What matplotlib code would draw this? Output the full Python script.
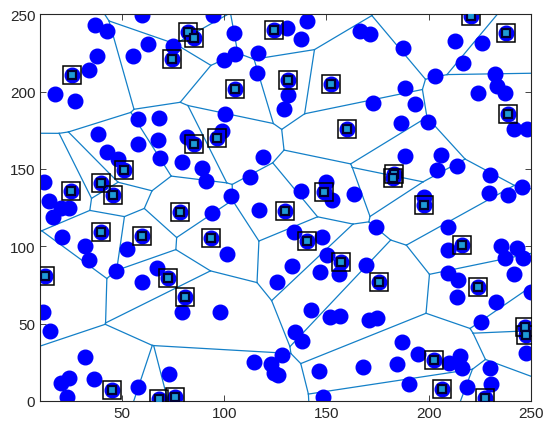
import numpy as np
import matplotlib
matplotlib.use("Agg")
import matplotlib.pyplot as plt
import matplotlib.tri as mtri

plt.rcParams['font.family'] = ['Liberation Sans', 'DejaVu Sans']

# cluster heads (boxed nodes)
head_x = [25.8, 82.5, 85.4, 74.4, 85.4, 124.5, 131.4, 105.4, 152.1, 160.1, 96.7,
          220.9, 238.0, 239.1, 51.1, 39.6, 45.7, 25.3, 78.4, 40.0, 60.0, 12.6,
          72.7, 149.0, 129.9, 93.6, 140.5, 157.4, 183.3, 182.6, 197.7, 216.5,
          176.0, 224.0, 45.3, 68.3, 76.0, 80.9, 202.6, 206.4, 227.5, 247.2, 247.5]
head_y = [210.5, 238.6, 234.7, 220.9, 165.8, 240.1, 207.3, 201.4, 204.9, 175.5, 170.1,
          248.7, 237.9, 185.3, 149.4, 140.8, 133.2, 135.4, 122.4, 109.1, 106.9, 80.8,
          79.5, 135.0, 123.0, 105.2, 103.6, 90.0, 146.8, 144.2, 126.7, 101.0,
          76.7, 73.5, 6.9, 1.1, 2.6, 67.0, 26.6, 7.6, 1.6, 47.9, 42.6]

# ordinary nodes
node_x = [59.6, 36.8, 42.5, 62.9, 74.8, 37.9, 55.5, 34.0, 17.5, 27.0, 58.0, 68.3,
          38.4, 57.7, 67.8, 81.7, 42.8, 48.2, 68.6, 79.3,
          94.5, 104.9, 105.4, 100.0, 116.5, 116.0, 131.0, 140.5, 137.6, 131.2, 129.1,
          100.5, 98.9, 166.7, 171.6, 172.9,
          187.4, 212.9, 226.3, 217.0, 203.3, 232.5, 188.7, 233.7, 237.4, 224.2, 193.6,
          186.3, 199.9, 241.8, 248.0,
          11.9, 14.2, 20.1, 24.0, 16.3, 20.7, 31.9, 34.0, 52.3, 46.9, 67.0, 60.0,
          119.0, 89.0, 91.2, 112.7, 103.3, 94.0, 117.2, 137.7, 150.0, 152.8, 163.4,
          101.3, 134.0, 147.9, 150.3, 133.2, 146.7, 156.0, 169.5, 126.1, 174.5,
          188.7, 206.2, 203.9, 214.0, 230.0, 245.9, 229.6, 239.1, 197.7, 209.7, 209.5,
          235.3, 243.4, 237.4, 246.4, 209.7, 214.6, 241.8, 250.0,
          11.4, 14.7, 31.9, 20.1, 24.2, 23.2, 36.4, 58.0, 73.0, 79.3,
          98.0, 142.6, 152.0, 156.5, 170.8, 174.6, 134.8, 138.1, 128.3, 114.4, 122.9,
          124.2, 126.6, 146.6, 168.0, 148.4,
          214.0, 232.8, 225.8, 187.1, 194.8, 184.7, 210.0, 215.4, 216.5, 230.0, 230.4,
          218.9, 190.3, 247.5]
node_y = [249.8, 242.9, 239.2, 231.0, 229.5, 223.0, 223.0, 213.7, 198.2, 193.9, 182.4, 183.1,
          172.7, 166.3, 168.4, 170.9, 160.9, 156.1, 157.2, 154.4,
          249.8, 237.9, 224.5, 220.2, 225.0, 212.0, 241.2, 245.7, 233.8, 197.5, 188.5,
          185.7, 174.5, 239.2, 237.0, 192.6,
          228.2, 232.5, 231.5, 218.7, 209.8, 211.6, 202.5, 203.4, 198.8, 199.1, 192.2,
          179.9, 180.5, 175.5, 175.5,
          141.8, 129.5, 124.6, 125.0, 118.8, 106.2, 100.0, 91.3, 98.3, 84.2, 85.9, 76.7,
          157.6, 150.5, 142.5, 144.7, 132.8, 121.6, 123.7, 135.4, 141.4, 130.0, 133.9,
          95.0, 109.1, 106.2, 94.4, 87.4, 83.2, 82.1, 87.9, 76.7, 112.3,
          158.3, 159.1, 149.0, 152.2, 146.2, 138.2, 134.5, 133.2, 131.7, 112.7, 97.6,
          100.4, 98.9, 92.2, 92.4, 82.5, 78.4, 82.1, 70.5,
          57.3, 44.9, 28.1, 11.3, 14.7, 2.8, 14.5, 9.3, 17.7, 57.3,
          57.6, 58.7, 54.4, 55.0, 52.3, 53.3, 44.3, 38.9, 29.6, 25.3, 24.2,
          17.9, 16.6, 19.4, 22.2, 2.8,
          67.0, 63.7, 50.8, 38.2, 30.2, 23.8, 24.4, 29.1, 21.0, 21.6, 10.8,
          9.3, 10.8, 30.9]


def circumcenter(a, b, c):
    d = 2 * (a[0] * (b[1] - c[1]) + b[0] * (c[1] - a[1]) + c[0] * (a[1] - b[1]))
    ux = ((a @ a) * (b[1] - c[1]) + (b @ b) * (c[1] - a[1]) + (c @ c) * (a[1] - b[1])) / d
    uy = ((a @ a) * (c[0] - b[0]) + (b @ b) * (a[0] - c[0]) + (c @ c) * (b[0] - a[0])) / d
    return np.array([ux, uy])


def voronoi_edges(x, y):
    """Voronoi edges from the Delaunay triangulation (rays pushed far out)."""
    pts = np.column_stack([x, y])
    tri = mtri.Triangulation(x, y)
    cc = np.array([circumcenter(*pts[t]) for t in tri.triangles])
    center = pts.mean(axis=0)
    far = np.ptp(pts, axis=0).max() * 3
    segs = []
    for i, t in enumerate(tri.triangles):
        for j in range(3):
            nb = tri.neighbors[i, j]
            if nb >= 0:
                if i < nb:
                    segs.append((cc[i], cc[nb]))
            else:
                p, q = pts[t[j]], pts[t[(j + 1) % 3]]
                tang = (q - p) / np.linalg.norm(q - p)
                n = np.array([-tang[1], tang[0]])
                mid = (p + q) / 2
                n = np.sign(np.dot(mid - center, n)) * n
                segs.append((cc[i], cc[i] + n * far))
    return segs


fig = plt.figure(figsize=(5.5, 4.35), dpi=100)
ax = fig.add_axes([0.073, 0.076, 0.892, 0.889])

for a, b in voronoi_edges(np.array(head_x), np.array(head_y)):
    ax.plot([a[0], b[0]], [a[1], b[1]], color='#1480C8', lw=0.9, zorder=1)

ax.plot(node_x, node_y, 'o', color='#0000FF', ms=10.5, zorder=2)
ax.plot(head_x, head_y, 'o', color='#0000FF', ms=10.5, zorder=2)
ax.plot(head_x, head_y, 's', mfc='none', mec='black', ms=13.5, mew=1.1, zorder=3)
ax.plot(head_x, head_y, 's', mfc='#1E9AD6', mec='#000033', ms=5.5, mew=1.6, zorder=4)

ax.set_xlim(10, 250)
ax.set_ylim(0, 250)
ax.set_xticks([50, 100, 150, 200, 250])
ax.set_yticks([0, 50, 100, 150, 200, 250])
ax.tick_params(direction='in', top=True, right=True, length=4, width=0.6,
               labelsize=11, colors='#262626')
for s in ax.spines.values():
    s.set_color('#262626')
    s.set_linewidth(0.8)

fig.savefig('out.png', dpi=100)
